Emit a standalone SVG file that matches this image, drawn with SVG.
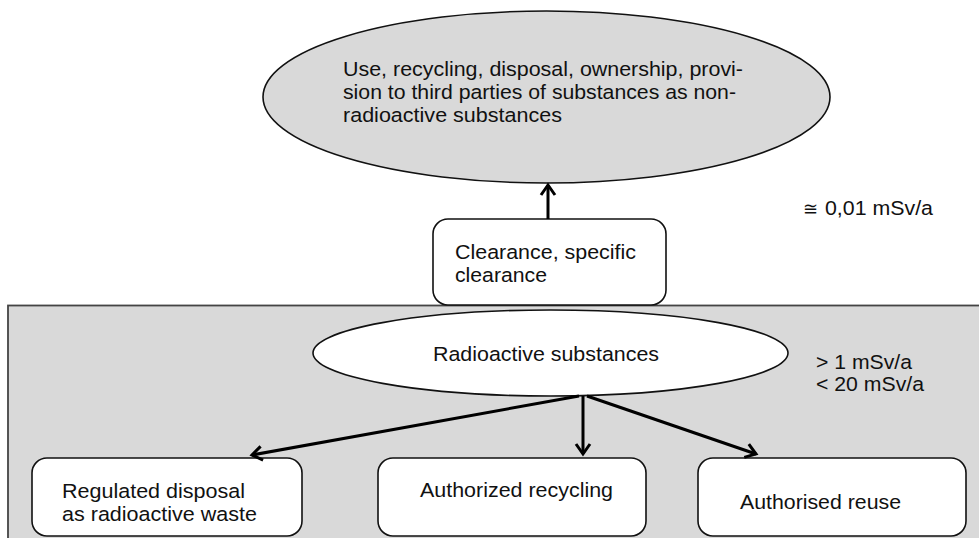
<svg xmlns="http://www.w3.org/2000/svg" width="979" height="538" viewBox="0 0 979 538">
  <style>
    .lbl { font-family: "Liberation Sans", Arial, sans-serif; fill: #111; font-size: 20.5px; }
    .box { fill: #ffffff; stroke: #111; stroke-width: 1.6; }
    .conn { fill: none; stroke: #000; stroke-width: 3; }
  </style>
  <defs>
    <marker id="arrow" markerUnits="userSpaceOnUse" markerWidth="20" markerHeight="20" refX="12" refY="9" orient="auto">
      <path d="M2,2 L12,9 L2,16" fill="none" stroke="#000" stroke-width="3" stroke-linejoin="miter"/>
    </marker>
  </defs>

  <!-- white page -->
  <rect x="0" y="0" width="979" height="538" fill="#ffffff"/>

  <!-- regulated area (shaded panel) -->
  <g id="regulated-area">
    <rect x="8" y="305.5" width="990" height="260" fill="#d9d9d9" stroke="#444" stroke-width="1.8"/>
  </g>

  <!-- unrestricted use -->
  <g id="unrestricted-use">
    <ellipse cx="546.5" cy="97" rx="283.5" ry="86" fill="#d9d9d9" stroke="#111" stroke-width="1.6"/>
    <text class="lbl" x="343" y="76" textLength="400" lengthAdjust="spacingAndGlyphs">Use, recycling, disposal, ownership, provi-</text>
    <text class="lbl" x="343" y="99" textLength="393" lengthAdjust="spacingAndGlyphs">sion to third parties of substances as non-</text>
    <text class="lbl" x="343" y="122" textLength="219" lengthAdjust="spacingAndGlyphs">radioactive substances</text>
  </g>

  <!-- clearance -->
  <g id="clearance">
    <rect class="box" x="433" y="219" width="233" height="86" rx="15" ry="15"/>
    <text class="lbl" x="455" y="259" textLength="181" lengthAdjust="spacingAndGlyphs">Clearance, specific</text>
    <text class="lbl" x="455" y="282" textLength="92" lengthAdjust="spacingAndGlyphs">clearance</text>
  </g>

  <!-- radioactive substances -->
  <g id="radioactive-substances">
    <ellipse cx="550.5" cy="353" rx="237.5" ry="43" fill="#ffffff" stroke="#111" stroke-width="1.6"/>
    <text class="lbl" x="433" y="361" textLength="226" lengthAdjust="spacingAndGlyphs">Radioactive substances</text>
  </g>

  <!-- dose levels -->
  <g id="dose-clearance">
    <text class="lbl" x="803" y="215"><tspan font-family="'DejaVu Sans', sans-serif" font-size="18">≅</tspan><tspan x="825" textLength="108" lengthAdjust="spacingAndGlyphs">0,01 mSv/a</tspan></text>
  </g>
  <g id="dose-regulated">
    <text class="lbl" x="816" y="369" textLength="96" lengthAdjust="spacingAndGlyphs">&gt; 1 mSv/a</text>
    <text class="lbl" x="816" y="391" textLength="108" lengthAdjust="spacingAndGlyphs">&lt; 20 mSv/a</text>
  </g>

  <!-- outcomes -->
  <g id="regulated-disposal">
    <rect class="box" x="32" y="458" width="270" height="78" rx="15" ry="15"/>
    <text class="lbl" x="62" y="498" textLength="183" lengthAdjust="spacingAndGlyphs">Regulated disposal</text>
    <text class="lbl" x="62" y="521" textLength="195" lengthAdjust="spacingAndGlyphs">as radioactive waste</text>
  </g>
  <g id="authorized-recycling">
    <rect class="box" x="378" y="458" width="268" height="78" rx="15" ry="15"/>
    <text class="lbl" x="420" y="497" textLength="193" lengthAdjust="spacingAndGlyphs">Authorized recycling</text>
  </g>
  <g id="authorised-reuse">
    <rect class="box" x="698" y="458" width="268" height="78" rx="15" ry="15"/>
    <text class="lbl" x="740" y="509" textLength="161" lengthAdjust="spacingAndGlyphs">Authorised reuse</text>
  </g>

  <!-- connectors -->
  <g id="connectors">
    <line class="conn" x1="548" y1="219" x2="548" y2="185" marker-end="url(#arrow)"/>
    <line class="conn" x1="579" y1="396" x2="252" y2="455" marker-end="url(#arrow)"/>
    <line class="conn" x1="583" y1="396" x2="583" y2="454" stroke-width="2.6" marker-end="url(#arrow)"/>
    <line class="conn" x1="587" y1="396" x2="756" y2="454" marker-end="url(#arrow)"/>
  </g>
</svg>
